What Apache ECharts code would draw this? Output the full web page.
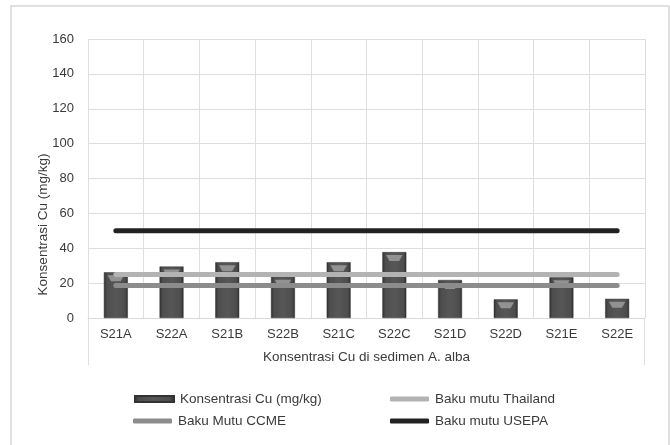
<!DOCTYPE html>
<html>
<head>
<meta charset="utf-8">
<script src="https://cdn.jsdelivr.net/npm/echarts@6/dist/echarts.min.js"></script>
<style>
  html, body { margin: 0; padding: 0; background: #fff; }
  #chart { width: 670px; height: 445px; }
</style>
</head>
<body>
<div id="chart"></div>
<script>
// Data
const categories = ['S21A', 'S22A', 'S21B', 'S22B', 'S21C', 'S22C', 'S21D', 'S22D', 'S21E', 'S22E'];
const cuValues = [26.2, 29.5, 32, 23.6, 32, 37.8, 21.8, 10.7, 23.3, 11];
const thailandLimit = 25;
const ccmeLimit = 18.7;
const usepaLimit = 50;
const yTicks = [0, 20, 40, 60, 80, 100, 120, 140, 160];

const FONT = 'Liberation Sans, Arial, sans-serif';
const TEXT = '#3a3a3a';
const GRID = { left: 88, top: 39, right: 25, bottom: 127 };

const chart = echarts.init(document.getElementById('chart'), null, { renderer: 'canvas' });

const barFill = new echarts.graphic.LinearGradient(0, 0, 1, 0, [
  { offset: 0, color: '#2f2f2f' },
  { offset: 0.12, color: '#4d4d4d' },
  { offset: 0.5, color: '#575757' },
  { offset: 0.88, color: '#4d4d4d' },
  { offset: 1, color: '#2f2f2f' }
]);

const limitLine = (name, value, color, width) => ({
  name,
  type: 'line',
  data: categories.map(() => value),
  symbol: 'none',
  z: 5,
  lineStyle: { color, width, cap: 'round' },
  itemStyle: { color },
  emphasis: { disabled: true }
});

const legendBox = (name, left, top, icon, h, color) => ({
  data: [{ name, icon, itemStyle: { color } }],
  left, top,
  padding: 0,
  itemWidth: 39,
  itemHeight: h,
  itemGap: 0,
  selectedMode: false,
  textStyle: { fontFamily: FONT, fontSize: 13.5, color: TEXT, padding: [0, 0, 0, 1] }
});

// axis frame below plot (outer verticals of the category band)
const plotLeft = GRID.left, plotRight = 670 - GRID.right, plotBottom = 445 - GRID.bottom;

const option = {
  backgroundColor: '#fff',
  animation: false,
  textStyle: { fontFamily: FONT },
  grid: GRID,
  legend: [
    legendBox('Konsentrasi Cu (mg/kg)', 134, 392, 'rect', 6, barFill),
    legendBox('Baku mutu Thailand', 390, 392, 'roundRect', 5, '#b3b3b3'),
    legendBox('Baku Mutu CCME', 133, 414, 'roundRect', 5, '#8c8c8c'),
    legendBox('Baku mutu USEPA', 390, 414, 'roundRect', 5, '#222222')
  ],
  xAxis: {
    type: 'category',
    data: categories,
    boundaryGap: true,
    name: 'Konsentrasi Cu di sedimen A. alba',
    nameLocation: 'middle',
    nameGap: 32,
    nameMoveOverlap: false,
    nameTextStyle: { fontFamily: FONT, fontSize: 13.5, color: TEXT },
    axisLine: { lineStyle: { color: '#d9d9d9', width: 1 } },
    axisTick: { show: false },
    axisLabel: { fontFamily: FONT, fontSize: 13, color: TEXT, margin: 10, interval: 0 },
    splitLine: { show: true, interval: 0, lineStyle: { color: '#dedede', width: 1 } }
  },
  yAxis: {
    type: 'value',
    min: yTicks[0],
    max: yTicks[yTicks.length - 1],
    interval: yTicks[1] - yTicks[0],
    name: 'Konsentrasi Cu (mg/kg)',
    nameLocation: 'middle',
    nameGap: 38,
    nameMoveOverlap: false,
    // title sits lower than the plot centre in the reference
    nameTextStyle: { fontFamily: FONT, fontSize: 13.5, color: TEXT, padding: [0, 92, 0, 0] },
    axisLine: { show: false },
    axisTick: { show: false },
    axisLabel: { fontFamily: FONT, fontSize: 13, color: TEXT, margin: 14 },
    splitLine: { lineStyle: { color: '#dedede', width: 1 } }
  },
  series: [
    {
      name: 'Konsentrasi Cu (mg/kg)',
      type: 'bar',
      data: cuValues,
      barWidth: '43%',
      z: 2,
      itemStyle: { color: barFill, borderColor: '#333', borderWidth: 0.5 },
      emphasis: { disabled: true }
    },
    {
      // bevelled top cap of each bar
      name: 'cap',
      type: 'pictorialBar',
      data: cuValues,
      symbol: 'path://M0,0 L24,0 L19,6 L5,6 Z',
      symbolSize: ['43%', 6],
      symbolPosition: 'end',
      symbolOffset: [0, '50%'],
      z: 3,
      itemStyle: { color: '#929292' },
      emphasis: { disabled: true }
    },
    limitLine('Baku mutu Thailand', thailandLimit, '#b3b3b3', 5),
    limitLine('Baku Mutu CCME', ccmeLimit, '#8c8c8c', 5),
    limitLine('Baku mutu USEPA', usepaLimit, '#222222', 5)
  ],
  graphic: [
    {
      type: 'rect', silent: true, z: -10,
      shape: { x: 11, y: 6, width: 658, height: 445 },
      style: { fill: 'none', stroke: '#d6d6d6', lineWidth: 1.5 }
    },
    {
      type: 'line', silent: true,
      shape: { x1: plotLeft + 0.5, y1: plotBottom, x2: plotLeft + 0.5, y2: plotBottom + 47 },
      style: { stroke: '#dedede', lineWidth: 1 }
    },
    {
      type: 'line', silent: true,
      shape: { x1: plotRight - 0.5, y1: plotBottom, x2: plotRight - 0.5, y2: plotBottom + 47 },
      style: { stroke: '#dedede', lineWidth: 1 }
    }
  ]
};

chart.setOption(option);
</script>
</body>
</html>
